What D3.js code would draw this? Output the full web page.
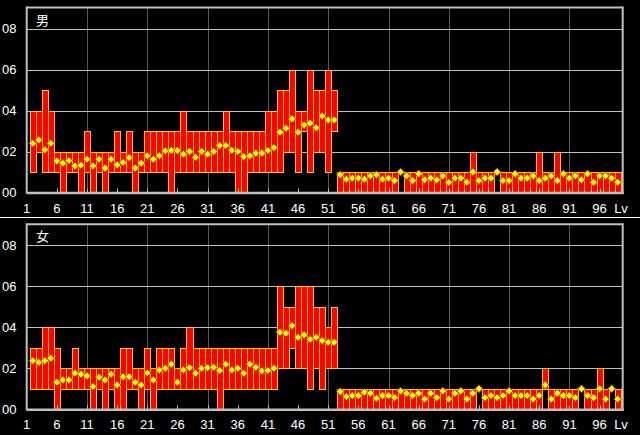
<!DOCTYPE html>
<html><head><meta charset="utf-8">
<script src="https://cdn.jsdelivr.net/npm/d3@7/dist/d3.min.js"></script>
<style>
html,body{margin:0;padding:0;background:#000;}
svg{display:block;}
text{font-family:"Liberation Sans",Arial,sans-serif;fill:#fff;}
</style></head>
<body>
<script>
// ---- data ----
const levels = d3.range(2, 100); // bar positions (98 bars)
const xTickLabels = ["1","6","11","16","21","26","31","36","41","46","51","56","61","66","71","76","81","86","91","96"];
const yTickValues = [0,2,4,6,8];
const yTickLabels = ["00","02","04","06","08"];
const panelTitles = ["男","女"];

const maleMin = [1,2,1,1,1,0,1,1,0,1,0,1,0,1,1,1,1,0,1,1,1,1,1,0,1,1,1,1,1,1,1,1,1,1,0,0,1,1,1,1,1,1,2,2,1,3,1,2,2,1,3,
 0,0,0,0,0,0,0,0,0,0,1,0,0,0,0,0,0,0,0,0,0,0,0,0,0,0,1,0,0,0,0,0,0,0,0,0,0,0,0,0,0,0,0,0,0,0,0];
const maleMax = [4,4,5,4,2,2,2,2,2,3,2,2,2,2,3,2,3,2,2,3,3,3,3,3,3,4,3,3,3,3,3,3,4,3,3,3,3,3,3,4,4,5,5,6,4,4,6,5,5,6,5,
 1,1,1,1,1,1,1,1,1,1,1,1,1,1,1,1,1,1,1,1,1,1,2,1,1,1,1,1,1,1,1,1,1,2,1,1,2,1,1,1,1,1,1,1,1,1,1];
const maleAvg = [2.40,2.56,2.08,2.40,1.54,1.43,1.56,1.30,1.33,1.62,1.30,1.62,1.19,1.62,1.35,1.46,1.70,1.19,1.43,1.79,
 1.62,1.79,2.03,2.05,2.05,1.87,2.00,1.72,2.00,1.87,2.00,2.29,2.29,2.06,2.00,1.75,1.79,1.92,1.92,2.05,
 2.19,2.94,3.13,3.59,2.94,3.30,3.38,3.16,3.73,3.54,3.54,0.86,0.65,0.70,0.70,0.65,0.81,0.86,0.65,0.70,
 0.58,1.00,0.81,0.58,0.91,0.62,0.70,0.62,0.81,0.49,0.70,0.70,0.50,1.00,0.58,0.70,0.70,1.00,0.58,0.58,
 0.91,0.70,0.70,0.81,0.58,0.70,0.81,0.58,0.91,0.70,0.81,0.62,0.91,0.50,0.81,0.81,0.70,0.50];

const femaleMin = [1,1,1,1,0,1,1,1,1,1,0,1,0,1,0,0,1,1,0,1,0,1,1,1,1,1,1,1,1,1,1,0,1,1,1,1,1,1,1,1,1,2,2,3,2,2,1,2,1,2,2,
 0,0,0,0,0,0,0,0,0,0,0,0,0,0,0,0,0,0,0,0,0,0,0,1,0,0,0,0,0,0,0,0,0,0,1,0,0,0,0,0,1,0,0,0,0,1,0];
const femaleMax = [3,3,4,4,3,2,2,3,2,2,2,2,2,2,2,3,3,2,2,3,2,3,3,3,2,3,4,3,3,3,3,3,3,3,3,3,3,3,3,3,3,6,5,5,6,6,6,5,5,4,5,
 1,1,1,1,1,1,1,1,1,1,1,1,1,1,1,1,1,1,1,1,1,1,1,1,1,1,1,1,1,1,1,1,1,1,2,1,1,1,1,1,1,1,1,2,1,1,1];
const femaleAvg = [2.37,2.29,2.37,2.49,1.32,1.43,1.43,1.76,1.71,1.63,1.11,1.56,1.43,1.71,1.19,1.59,1.59,1.32,1.19,1.77,
 1.43,1.92,2.00,2.20,1.32,1.92,2.03,1.76,2.00,2.03,2.05,1.89,2.20,1.92,2.00,1.76,2.20,2.05,1.87,1.89,
 2.00,3.76,3.71,4.08,3.51,3.63,3.41,3.51,3.35,3.27,3.27,0.86,0.62,0.67,0.67,0.83,0.78,0.54,0.67,0.67,
 0.57,0.89,0.78,0.67,0.78,0.50,0.78,0.57,0.89,0.50,0.78,0.89,0.50,0.78,1.00,0.57,0.67,0.57,0.67,0.89,
 0.67,0.67,0.67,0.50,0.67,1.19,0.50,0.78,0.67,0.67,0.57,1.00,0.67,0.57,1.00,0.50,1.00,0.50];

// ---- layout ----
const W = 640, H = 435;
const svg = d3.select("body").append("svg").attr("width", W).attr("height", H);
svg.append("rect").attr("width", W).attr("height", H).attr("fill", "#000");

const left = 26.7, right = 622.7;
const x = d3.scaleLinear().domain([1, 99]).range([left, left + 98 * 6.03]);
const bw = x(2) - x(1);
const edge = L => Math.round(x(L) - bw / 2);

const panels = [
  {title: panelTitles[0], mn: maleMin, mx: maleMax, av: maleAvg, y0: 192.5},
  {title: panelTitles[1], mn: femaleMin, mx: femaleMax, av: femaleAvg, y0: 409.3}
];

svg.append("line").attr("x1", 0).attr("x2", W).attr("y1", 217.5).attr("y2", 217.5)
  .attr("stroke", "#fff").attr("stroke-width", 1.2);

panels.forEach(p => {
  const top = p.y0 - 185;
  const y = d3.scaleLinear().domain([0, 9]).range([p.y0, p.y0 - 184.5]);
  const g = svg.append("g");

  // vertical grid every 10 levels
  const vLevels = [11,21,31,41,51,61,71,81,91];
  g.selectAll(".vg").data(vLevels).join("line")
    .attr("x1", d => Math.round(x(d)) + 0.5).attr("x2", d => Math.round(x(d)) + 0.5)
    .attr("y1", top).attr("y2", p.y0)
    .attr("stroke", "#5a5a5a").attr("stroke-width", 1);
  // horizontal grid
  g.selectAll(".hg").data(yTickValues.filter(v => v > 0)).join("line")
    .attr("x1", left).attr("x2", right)
    .attr("y1", d => Math.round(y(d)) + 0.5).attr("y2", d => Math.round(y(d)) + 0.5)
    .attr("stroke", "#c0c0c0").attr("stroke-width", 1);

  // bars
  const rows = levels.map((L, i) => ({L, mn: p.mn[i], mx: p.mx[i], av: p.av[i]}));
  g.selectAll(".bar").data(rows.filter(d => d.mx > d.mn)).join("rect")
    .attr("x", d => edge(d.L) + 0.5)
    .attr("width", d => edge(d.L + 1) - edge(d.L))
    .attr("y", d => Math.round(y(d.mx)) + 0.5)
    .attr("height", d => Math.round(y(d.mn)) - Math.round(y(d.mx)))
    .attr("fill", "#ff0000")
    .attr("stroke", "#ffcc00").attr("stroke-width", 1)
    .attr("shape-rendering", "crispEdges");

  // frame
  g.append("line").attr("x1", left).attr("x2", right).attr("y1", top).attr("y2", top)
    .attr("stroke", "#c0c0c0").attr("stroke-width", 2);
  g.append("line").attr("x1", left).attr("x2", left).attr("y1", top - 1).attr("y2", p.y0 + 1)
    .attr("stroke", "#c0c0c0").attr("stroke-width", 2);
  g.append("line").attr("x1", right).attr("x2", right).attr("y1", top - 1).attr("y2", p.y0 + 1)
    .attr("stroke", "#c0c0c0").attr("stroke-width", 2);
  g.append("line").attr("x1", left).attr("x2", right + 1).attr("y1", p.y0 + 0.5).attr("y2", p.y0 + 0.5)
    .attr("stroke", "#c0c0c0").attr("stroke-width", 2.5);

  // small x ticks
  const tickLevels = xTickLabels.map(Number);
  g.selectAll(".xt").data(tickLevels.filter(d => d > 1)).join("line")
    .attr("x1", d => Math.round(x(d)) + 0.5).attr("x2", d => Math.round(x(d)) + 0.5)
    .attr("y1", p.y0 - 4).attr("y2", p.y0)
    .attr("stroke", "#c0c0c0").attr("stroke-width", 1);

  // diamonds (average)
  const r = 3.8;
  g.selectAll(".dm").data(rows).join("path")
    .attr("d", d => {
      const cx = x(d.L), cy = y(d.av);
      return `M${cx},${cy - r}L${cx + r},${cy}L${cx},${cy + r}L${cx - r},${cy}Z`;
    })
    .attr("fill", "#ffff00").attr("stroke", "#c04000").attr("stroke-width", 1);

  // y labels
  g.selectAll(".yl").data(yTickValues).join("text")
    .attr("x", 2).attr("y", d => y(d))
    .attr("dy", "0.36em")
    .attr("font-size", 13)
    .text((d, i) => yTickLabels[i]);

  // x labels
  g.selectAll(".xl").data(xTickLabels).join("text")
    .attr("x", d => x(+d)).attr("y", p.y0 + 20)
    .attr("text-anchor", "middle").attr("font-size", 13)
    .text(d => d);
  g.append("text").attr("x", 621).attr("y", p.y0 + 20)
    .attr("text-anchor", "middle").attr("font-size", 13).text("Lv");

  // title
  g.append("text").attr("x", 36).attr("y", top + 17)
    .attr("font-size", 13).style("font-family", '"Noto Sans CJK JP", sans-serif')
    .text(p.title);
});
</script>
</body></html>
